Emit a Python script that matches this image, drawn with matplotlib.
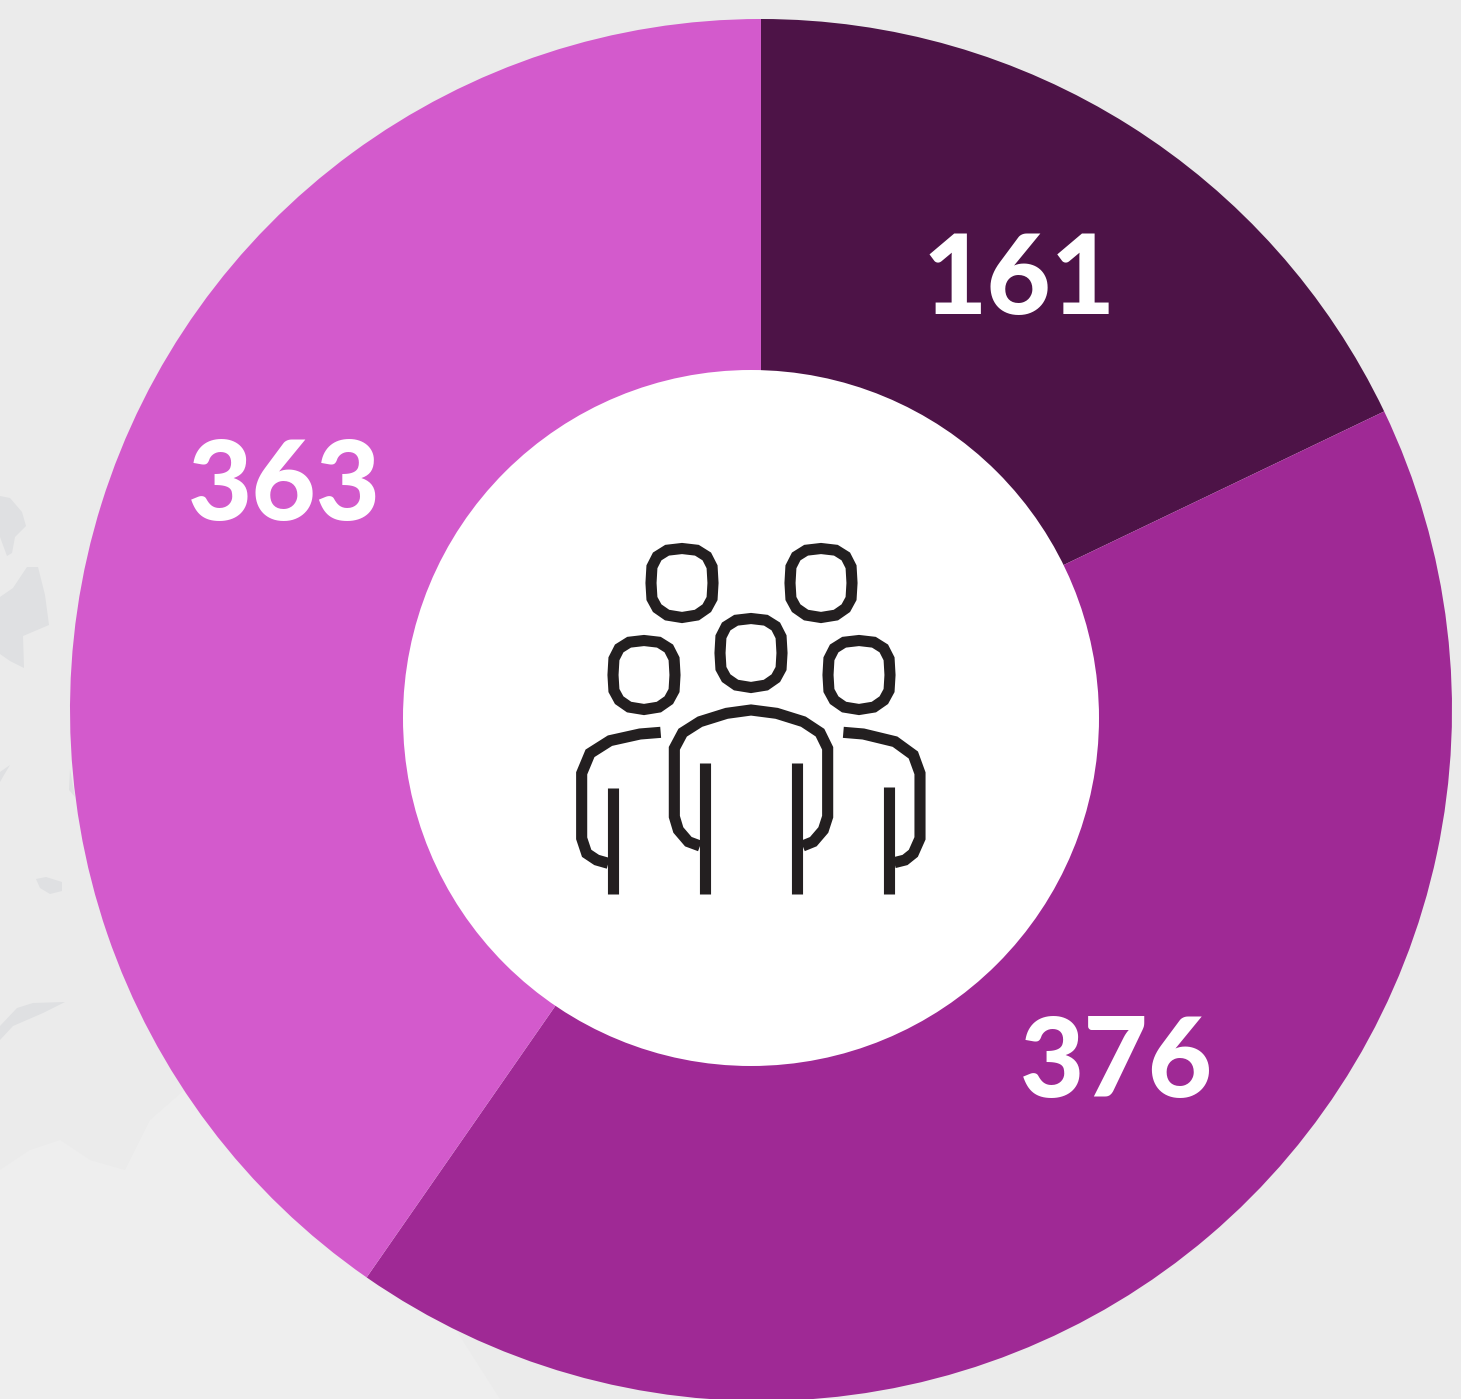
import matplotlib
matplotlib.use('Agg')
import matplotlib.pyplot as plt
import matplotlib.patheffects as pe
from matplotlib.patches import Circle, Polygon

# values of the three slices, clockwise from the top
values = [161, 376, 363]
labels = ['161', '376', '363']
colors = ['#4D1347', '#9F2995', '#D35ACC']
label_pos = [(1019, 314), (1116, 1097), (284, 520)]

W, H = 1461, 1399

def Y(y):
    return H - y

fig = plt.figure(figsize=(W / 100, H / 100), dpi=100, facecolor='#EBEBEB')
ax = fig.add_axes([0, 0, 1, 1])
ax.set_xlim(0, W)
ax.set_ylim(0, H)
ax.axis('off')

# faint map shapes behind the ring
blobs = [
    [(0, 496), (10, 498), (22, 512), (26, 526), (15, 537), (12, 553), (7, 556), (0, 537)],
    [(0, 597), (13, 588), (27, 567), (38, 567), (45, 595), (49, 625), (23, 636), (24, 668), (10, 661), (0, 654)],
    [(0, 772), (10, 765), (4, 775), (0, 782)],
    [(36, 879), (46, 877), (62, 882), (62, 891), (50, 894), (40, 888)],
    [(0, 1026), (17, 1008), (33, 1003), (65, 1002), (43, 1013), (13, 1026), (0, 1040)],
    [(70, 769), (75, 797), (69, 790)],
]
for b in blobs:
    ax.add_patch(Polygon([(x, Y(y)) for x, y in b], closed=True, fc='#DFE0E2', ec='none', zorder=1))
low = [(0, 1170), (30, 1150), (60, 1140), (90, 1160), (125, 1170), (150, 1120), (190, 1085), (300, 1085),
       (500, 1399), (0, 1399)]
ax.add_patch(Polygon([(x, Y(y)) for x, y in low], closed=True, fc='#EEEEEE', ec='none', zorder=1))

wedges, _ = ax.pie(values, colors=colors, startangle=90, counterclock=False,
                   center=(761, Y(710)), radius=691, frame=False,
                   wedgeprops={'linewidth': 0})
ax.set_xlim(0, W)
ax.set_ylim(0, H)
ax.set_aspect('equal')
for w in wedges:
    w.set_zorder(2)

ax.add_patch(Circle((751, Y(718)), 348, fc='white', ec='none', zorder=3))

for txt, (x, y) in zip(labels, label_pos):
    t = ax.text(x, Y(y), txt, color='white', fontsize=80, family='Lato', fontweight='black',
                ha='center', va='baseline', zorder=4)

# people icon in the hole
ink = '#231F20'
lw = 8

def px(p):
    return [560 + p[0] / 3 for p in p], [Y(530 + q[1] / 3) for q in p]

head = [(0, -1), (0.48, -.95), (0.8, -.77), (0.97, -.47), (1, 0), (0.97, .45), (0.8, .73), (0.48, .93), (0, 1),
        (-0.48, .93), (-0.8, .73), (-0.97, .45), (-1, 0), (-0.97, -.47), (-0.8, -.77), (-0.48, -.95)]
head_centers = [(682, 583), (821, 583), (751, 653), (644, 675), (859, 675)]
for cx, cy in head_centers:
    ax.add_patch(Polygon([(cx + 31 * a, Y(cy + 34.5 * b)) for a, b in head], closed=True,
                         fc='none', ec=ink, lw=lw, zorder=5))

body = [(420, 948), (385, 935), (355, 900), (343, 860), (343, 655), (368, 608), (420, 575), (500, 550), (573, 540),
        (650, 550), (730, 575), (780, 608), (803, 655), (803, 860), (790, 900), (760, 935), (728, 948)]
left = [(302, 607), (240, 612), (150, 632), (90, 670), (65, 730), (65, 925), (80, 970), (110, 990), (145, 1000)]
right = [(850, 607), (910, 612), (1005, 635), (1060, 675), (1080, 730), (1080, 925), (1060, 970), (1035, 990), (1003, 998)]
for p in [body, left, right]:
    xs, ys = px(p)
    ax.plot(xs, ys, color=ink, lw=lw, zorder=5, solid_joinstyle='miter', solid_capstyle='butt')
for x, y0 in [(160, 773), (435, 700), (711, 700), (988, 770)]:
    xs, ys = px([(x, y0), (x, 1092)])
    ax.plot(xs, ys, color=ink, lw=lw, zorder=5, solid_capstyle='butt')

fig.savefig('out.png', dpi=100, facecolor=fig.get_facecolor())
